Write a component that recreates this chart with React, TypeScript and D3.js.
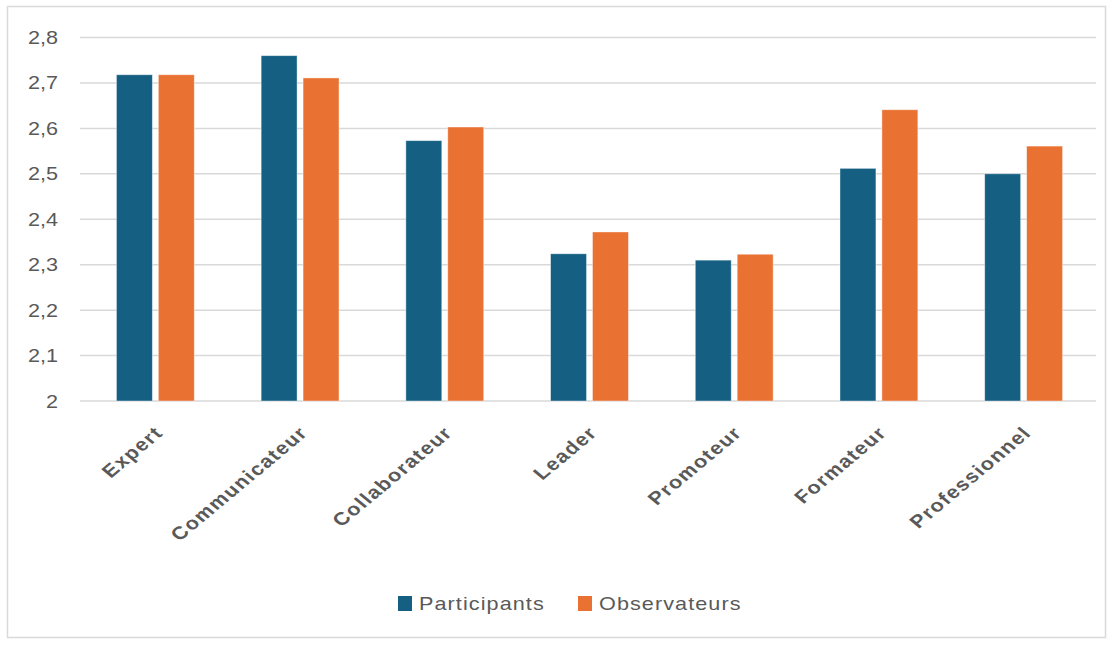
import * as d3 from 'd3'

const categories = ['Expert', 'Communicateur', 'Collaborateur', 'Leader', 'Promoteur', 'Formateur', 'Professionnel']
const seriesNames = ['Participants', 'Observateurs']
const participants = [2.718, 2.76, 2.573, 2.324, 2.31, 2.512, 2.5]
const observateurs = [2.718, 2.711, 2.603, 2.372, 2.323, 2.641, 2.561]
const yTicks = [2, 2.1, 2.2, 2.3, 2.4, 2.5, 2.6, 2.7, 2.8]

const colors = ['#156082', '#E97132']
const textColor = '#595959'
const font = 'Arial, "Liberation Sans", sans-serif'

export default function App() {
  const width = 1113
  const height = 645
  const left = 83, right = 1096, top = 37.5, bottom = 401

  const x0 = d3.scaleBand().domain(categories).range([left, right]).paddingInner(0.462).paddingOuter(0.231)
  const x1 = d3.scaleBand().domain(seriesNames).range([0, x0.bandwidth()]).paddingInner(0.143)
  const y = d3.scaleLinear().domain([2, 2.8]).range([bottom, top])
  const color = d3.scaleOrdinal<string, string>().domain(seriesNames).range(colors)
  const fmt = (d: number) => String(d).replace('.', ',')

  const values = [participants, observateurs]
  const legendX = [398, 578]

  return (
    <>
      <style>{'body{margin:0}'}</style>
      <svg width={width} height={height} style={{ display: 'block', background: '#fff' }}>
        <rect x={7.5} y={6.5} width={1098} height={631} fill="#fff" stroke="#d9d9d9" strokeWidth={1.5} />
        {yTicks.map(t => (
          <g key={t}>
            <line x1={80} x2={right} y1={y(t)} y2={y(t)} stroke="#d9d9d9" strokeWidth={1.5} />
            <text transform={`translate(58,${y(t) + 6.5}) scale(1.2,1)`} textAnchor="end" fontFamily={font} fontSize={18} fill={textColor}>
              {fmt(t)}
            </text>
          </g>
        ))}
        {categories.map((c, i) => (
          <g key={c} transform={`translate(${x0(c)},0)`}>
            {seriesNames.map((s, j) => (
              <rect key={s} x={x1(s)} y={y(values[j][i])} width={x1.bandwidth()} height={y(2) - y(values[j][i])}
                fill={color(s)} stroke="#ffffff" strokeOpacity={0.5} strokeWidth={0.8} />
            ))}
          </g>
        ))}
        {categories.map(c => (
          <text key={c} transform={`translate(${(x0(c) as number) + x0.bandwidth() / 2 + 9},434) scale(1.2,1) rotate(-45)`}
            textAnchor="end" fontFamily={font} fontWeight="bold" fontSize={18} letterSpacing={1.2} fill={textColor}>
            {c}
          </text>
        ))}
        {seriesNames.map((s, j) => (
          <g key={s} transform={`translate(${legendX[j]},596)`}>
            <rect width={14} height={15} fill={color(s)} />
            <text transform="translate(21,14) scale(1.2,1)" fontFamily={font} fontSize={18} letterSpacing={0.9} fill={textColor}>{s}</text>
          </g>
        ))}
      </svg>
    </>
  )
}
